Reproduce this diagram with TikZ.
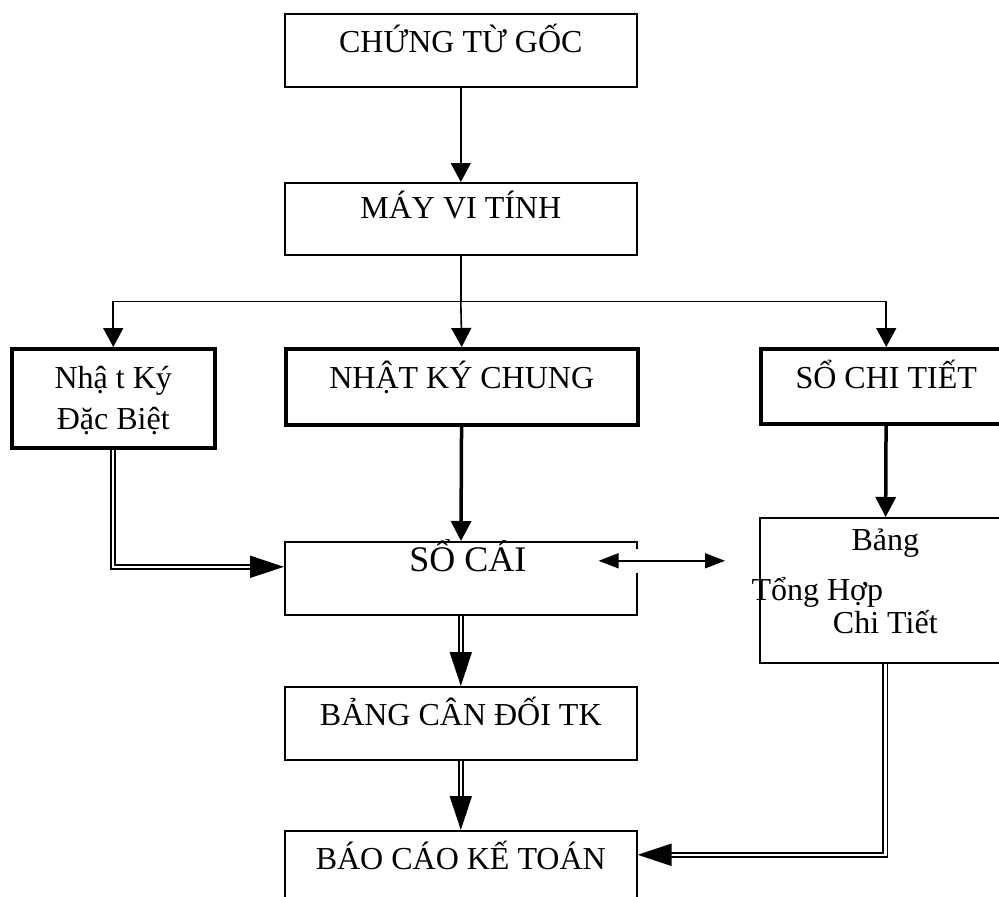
\documentclass[tikz,border=0pt]{standalone}
\usepackage{fontspec}
\setmainfont{Liberation Serif}
\usetikzlibrary{arrows.meta}

\begin{document}
\begin{tikzpicture}[
  x=1pt, y=-1pt,
  box/.style={draw, line width=1.6pt, anchor=north west, inner sep=0pt, align=center, font=\fontsize{32}{37}\selectfont, text height=39pt, text depth=34pt},
  bold/.style={line width=3.5pt},
  arr/.style={-{Triangle[length=19pt,width=20pt]}, line width=1.6pt},
  arrb/.style={-{Triangle[length=20pt,width=20pt]}, line width=3.5pt},
  dbl/.style={double, double distance=2.4pt, line width=1.9pt, -{Triangle[length=34pt,width=22pt]}},
  both/.style={{Triangle[length=20pt,width=15pt]}-{Triangle[length=20pt,width=15pt]}, line width=1.6pt}
]
\useasboundingbox (0,0) rectangle (999,897);
\node[box, minimum width=352pt] (ctg) at (284,13) {CHỨNG TỪ GỐC};
\node[box, minimum width=352pt, text height=36pt, text depth=36pt] (mvt) at (284,182) {MÁY VI TÍNH};
\node[box, bold, minimum width=203pt, text height=81pt, text depth=18pt] (nkdb) at (10,347) {Nhậ t Ký\\[4pt]Đặc Biệt};
\node[box, bold, minimum width=352pt, text height=40pt, text depth=36pt] (nkc) at (284,347) {NHẬT KÝ CHUNG};
\node[box, bold, minimum width=251pt, text height=40pt, text depth=35pt] (sct) at (759,347) {SỔ CHI TIẾT};
\node[box, minimum width=352pt, font=\fontsize{36}{41}\selectfont, text height=30pt, text depth=43pt] (sc) at (284,541) {\hspace*{14pt}SỔ CÁI};
\node[box, minimum width=251pt, text height=116pt, text depth=29pt] (bth) at (759,517) {Bảng\\[13pt]\hspace*{-136pt}Tổng Hợp\\[-4pt]Chi Tiết};
\node[box, minimum width=352pt] (bcd) at (284,686) {BẢNG CÂN ĐỐI TK};
\node[box, minimum width=352pt] (bckt) at (284,830) {BÁO CÁO KẾ TOÁN};
\draw[arr] (ctg) -- (mvt);
\draw[line width=1.6pt] (mvt.south) -- ++(0,46) coordinate (fork);
\draw[arr] (fork) -| (nkdb.north);
\draw[arr] (fork) -- (nkc.north);
\draw[arr] (fork) -| (sct.north);
\draw[arrb] (nkc) -- (sc);
\draw[arrb] (sct) -- (bth);
\draw[dbl] (nkdb.south) |- ([yshift=11.5pt]sc.west);
\draw[dbl] (sc) -- (bcd);
\draw[dbl] (bcd) -- (bckt);
\draw[dbl] (bth.south) |- ([yshift=12.5pt]bckt.east);
\draw[both, preaction={draw=white, line width=24pt, -}] ([xshift=-39pt,yshift=17.5pt]sc.east) -- ([xshift=-34pt,yshift=29.5pt]bth.west);
\end{tikzpicture}
\end{document}
